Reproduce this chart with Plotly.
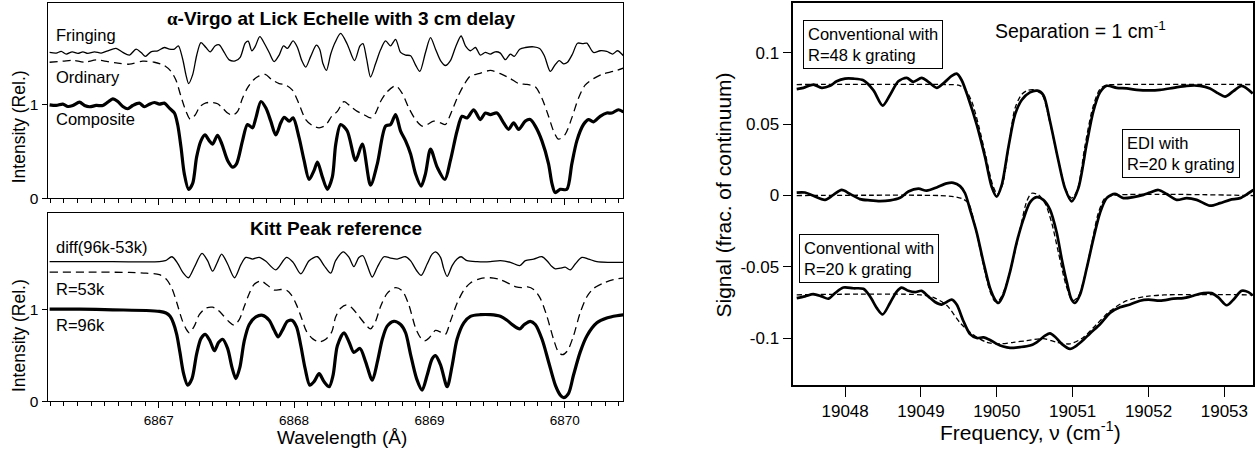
import plotly.graph_objects as go

# ---------------- Left top panel: alpha-Virgo at Lick Echelle ----------------
FRINGING = [(6866.194, 1.561), (6866.243, 1.554), (6866.280, 1.572), (6866.317, 1.544), (6866.361, 1.568),
            (6866.403, 1.551), (6866.440, 1.568), (6866.476, 1.551), (6866.526, 1.568), (6866.575, 1.554),
            (6866.624, 1.579), (6866.685, 1.604), (6866.735, 1.561), (6866.784, 1.533), (6866.833, 1.596),
            (6866.870, 1.561), (6866.902, 1.519), (6866.943, 1.568), (6866.993, 1.579), (6867.042, 1.614),
            (6867.079, 1.596), (6867.116, 1.596), (6867.145, 1.632), (6867.177, 1.491), (6867.202, 1.316),
            (6867.221, 1.228), (6867.251, 1.323), (6867.280, 1.526), (6867.312, 1.667), (6867.349, 1.614),
            (6867.381, 1.568), (6867.418, 1.632), (6867.447, 1.642), (6867.484, 1.561), (6867.521, 1.481),
            (6867.565, 1.470), (6867.602, 1.509), (6867.639, 1.660), (6867.661, 1.681), (6867.688, 1.579),
            (6867.713, 1.625), (6867.747, 1.730), (6867.784, 1.649), (6867.816, 1.561), (6867.853, 1.463),
            (6867.890, 1.533), (6867.922, 1.632), (6867.951, 1.604), (6867.993, 1.684), (6868.025, 1.614),
            (6868.057, 1.474), (6868.086, 1.404), (6868.123, 1.519), (6868.165, 1.639), (6868.189, 1.596),
            (6868.214, 1.439), (6868.239, 1.368), (6868.271, 1.544), (6868.303, 1.667), (6868.344, 1.765),
            (6868.393, 1.649), (6868.447, 1.474), (6868.487, 1.632), (6868.509, 1.656), (6868.536, 1.491),
            (6868.565, 1.298), (6868.602, 1.439), (6868.639, 1.589), (6868.676, 1.684), (6868.713, 1.632),
            (6868.750, 1.702), (6868.787, 1.561), (6868.824, 1.533), (6868.861, 1.526), (6868.897, 1.428),
            (6868.929, 1.358), (6868.971, 1.561), (6869.008, 1.719), (6869.045, 1.596), (6869.082, 1.474),
            (6869.118, 1.421), (6869.155, 1.474), (6869.192, 1.614), (6869.234, 1.737), (6869.266, 1.632),
            (6869.303, 1.579), (6869.340, 1.614), (6869.376, 1.533), (6869.413, 1.561), (6869.450, 1.544),
            (6869.487, 1.568), (6869.524, 1.554), (6869.561, 1.484), (6869.598, 1.544), (6869.627, 1.519),
            (6869.667, 1.596), (6869.709, 1.614), (6869.770, 1.621), (6869.814, 1.604), (6869.849, 1.526),
            (6869.893, 1.358), (6869.925, 1.421), (6869.959, 1.474), (6869.991, 1.439), (6870.020, 1.456),
            (6870.057, 1.544), (6870.094, 1.660), (6870.133, 1.656), (6870.163, 1.660), (6870.212, 1.561),
            (6870.261, 1.579), (6870.310, 1.572), (6870.354, 1.544), (6870.389, 1.579), (6870.433, 1.526)]

ORDINARY = [(6866.194, 1.456), (6866.292, 1.467), (6866.366, 1.477), (6866.452, 1.456), (6866.538, 1.481),
            (6866.624, 1.463), (6866.698, 1.446), (6866.784, 1.435), (6866.882, 1.467), (6866.968, 1.456),
            (6867.042, 1.421), (6867.091, 1.358), (6867.128, 1.263), (6867.165, 1.088), (6867.202, 0.930),
            (6867.233, 0.846), (6867.268, 0.888), (6867.305, 0.982), (6867.349, 1.021), (6867.398, 1.025),
            (6867.435, 1.011), (6867.472, 0.965), (6867.509, 0.912), (6867.546, 0.888), (6867.583, 0.930),
            (6867.619, 1.070), (6867.656, 1.182), (6867.698, 1.263), (6867.742, 1.309), (6867.787, 1.326),
            (6867.836, 1.270), (6867.890, 1.228), (6867.939, 1.211), (6867.988, 1.158), (6868.037, 1.007),
            (6868.086, 0.842), (6868.135, 0.779), (6868.185, 0.754), (6868.234, 0.782), (6868.278, 0.877),
            (6868.320, 0.930), (6868.369, 1.035), (6868.418, 0.982), (6868.467, 0.930), (6868.516, 0.895),
            (6868.565, 0.860), (6868.602, 0.912), (6868.639, 1.035), (6868.688, 1.140), (6868.750, 1.204),
            (6868.799, 1.123), (6868.848, 0.965), (6868.897, 0.842), (6868.946, 0.772), (6868.983, 0.789),
            (6869.032, 0.825), (6869.082, 0.807), (6869.118, 0.789), (6869.155, 0.895), (6869.204, 1.070),
            (6869.254, 1.211), (6869.303, 1.309), (6869.364, 1.333), (6869.450, 1.368), (6869.524, 1.333),
            (6869.598, 1.281), (6869.659, 1.228), (6869.721, 1.218), (6869.782, 1.193), (6869.831, 1.070),
            (6869.880, 0.877), (6869.917, 0.719), (6869.954, 0.632), (6870.003, 0.684), (6870.052, 0.860),
            (6870.101, 1.070), (6870.150, 1.211), (6870.212, 1.281), (6870.286, 1.333), (6870.359, 1.358),
            (6870.433, 1.393)]

COMPOSITE = [(6866.194, 1.000), (6866.243, 0.993), (6866.292, 1.007), (6866.329, 0.982), (6866.366, 0.993),
             (6866.415, 1.028), (6866.452, 0.993), (6866.489, 0.979), (6866.538, 0.993), (6866.587, 0.993),
             (6866.624, 1.028), (6866.661, 1.063), (6866.698, 1.035), (6866.735, 0.982), (6866.771, 0.958),
             (6866.808, 0.993), (6866.857, 1.018), (6866.894, 0.979), (6866.931, 1.007), (6866.968, 1.025),
             (6867.005, 1.007), (6867.042, 1.018), (6867.079, 0.965), (6867.116, 0.912), (6867.140, 0.789),
             (6867.165, 0.544), (6867.189, 0.263), (6867.221, 0.095), (6867.251, 0.158), (6867.280, 0.439),
             (6867.312, 0.614), (6867.342, 0.677), (6867.374, 0.614), (6867.398, 0.579), (6867.435, 0.674),
             (6867.467, 0.579), (6867.509, 0.404), (6867.546, 0.333), (6867.575, 0.368), (6867.619, 0.614),
             (6867.656, 0.789), (6867.693, 0.754), (6867.718, 0.860), (6867.755, 1.035), (6867.792, 0.965),
             (6867.828, 0.825), (6867.865, 0.677), (6867.902, 0.807), (6867.927, 0.867), (6867.964, 0.825),
             (6867.993, 0.860), (6868.037, 0.649), (6868.074, 0.404), (6868.111, 0.200), (6868.148, 0.298),
             (6868.173, 0.386), (6868.209, 0.228), (6868.246, 0.095), (6868.283, 0.228), (6868.308, 0.579),
             (6868.344, 0.789), (6868.393, 0.719), (6868.455, 0.404), (6868.504, 0.579), (6868.565, 0.140),
             (6868.615, 0.368), (6868.676, 0.772), (6868.713, 0.789), (6868.750, 0.895), (6868.787, 0.719),
             (6868.824, 0.614), (6868.861, 0.474), (6868.897, 0.263), (6868.939, 0.130), (6868.971, 0.263),
             (6869.008, 0.526), (6869.057, 0.333), (6869.114, 0.200), (6869.155, 0.404), (6869.204, 0.719),
             (6869.241, 0.877), (6869.278, 0.860), (6869.327, 0.947), (6869.376, 0.842), (6869.413, 0.912),
             (6869.450, 0.895), (6869.499, 0.912), (6869.548, 0.807), (6869.585, 0.737), (6869.622, 0.807),
             (6869.659, 0.737), (6869.708, 0.825), (6869.745, 0.842), (6869.782, 0.772), (6869.831, 0.614),
             (6869.880, 0.368), (6869.905, 0.158), (6869.929, 0.060), (6869.966, 0.095), (6870.015, 0.095),
             (6870.052, 0.368), (6870.089, 0.614), (6870.138, 0.789), (6870.175, 0.842), (6870.212, 0.818),
             (6870.261, 0.877), (6870.310, 0.912), (6870.347, 0.912), (6870.396, 0.947), (6870.433, 0.923)]

# ---------------- Left bottom panel: Kitt Peak reference ----------------
DIFF = [(6866.194, 1.521), (6866.661, 1.521), (6867.005, 1.521), (6867.049, 1.532), (6867.098, 1.575),
        (6867.140, 1.504), (6867.177, 1.407), (6867.219, 1.346), (6867.263, 1.461), (6867.320, 1.611),
        (6867.361, 1.532), (6867.398, 1.418), (6867.430, 1.504), (6867.465, 1.604), (6867.509, 1.496),
        (6867.560, 1.346), (6867.607, 1.489), (6867.644, 1.568), (6867.693, 1.550), (6867.742, 1.568),
        (6867.792, 1.525), (6867.865, 1.432), (6867.944, 1.568), (6867.993, 1.514), (6868.050, 1.389),
        (6868.111, 1.532), (6868.173, 1.575), (6868.222, 1.479), (6868.271, 1.396), (6868.307, 1.532),
        (6868.364, 1.629), (6868.406, 1.568), (6868.442, 1.468), (6868.479, 1.568), (6868.509, 1.586),
        (6868.541, 1.479), (6868.578, 1.354), (6868.615, 1.461), (6868.664, 1.575), (6868.713, 1.561),
        (6868.762, 1.550), (6868.823, 1.575), (6868.860, 1.532), (6868.905, 1.425), (6868.939, 1.371),
        (6868.983, 1.496), (6869.020, 1.604), (6869.045, 1.629), (6869.082, 1.568), (6869.106, 1.443),
        (6869.131, 1.361), (6869.168, 1.479), (6869.204, 1.550), (6869.234, 1.575), (6869.278, 1.532),
        (6869.352, 1.521), (6869.450, 1.521), (6869.524, 1.532), (6869.598, 1.514), (6869.667, 1.479),
        (6869.709, 1.532), (6869.770, 1.550), (6869.832, 1.575), (6869.868, 1.532), (6869.905, 1.468),
        (6869.930, 1.443), (6869.966, 1.450), (6870.003, 1.461), (6870.040, 1.432), (6870.077, 1.496),
        (6870.126, 1.568), (6870.175, 1.550), (6870.237, 1.521), (6870.335, 1.514), (6870.446, 1.514)]

R53K = [(6866.194, 1.407), (6866.538, 1.407), (6866.784, 1.404), (6866.907, 1.396), (6867.005, 1.379),
        (6867.059, 1.325), (6867.098, 1.229), (6867.135, 1.068), (6867.172, 0.889), (6867.202, 0.789),
        (6867.226, 0.746), (6867.263, 0.818), (6867.300, 0.943), (6867.349, 1.014), (6867.398, 1.025),
        (6867.435, 0.996), (6867.472, 0.943), (6867.516, 0.871), (6867.558, 0.829), (6867.595, 0.889),
        (6867.632, 1.032), (6867.669, 1.175), (6867.706, 1.275), (6867.755, 1.311), (6867.804, 1.264),
        (6867.853, 1.211), (6867.902, 1.218), (6867.944, 1.211), (6867.981, 1.157), (6868.018, 1.050),
        (6868.055, 0.907), (6868.091, 0.764), (6868.136, 0.682), (6868.185, 0.646), (6868.234, 0.675),
        (6868.278, 0.754), (6868.307, 0.918), (6868.344, 1.014), (6868.388, 1.050), (6868.430, 1.014),
        (6868.479, 0.925), (6868.528, 0.836), (6868.565, 0.789), (6868.602, 0.871), (6868.639, 1.032),
        (6868.688, 1.175), (6868.750, 1.239), (6868.799, 1.204), (6868.848, 1.050), (6868.897, 0.800),
        (6868.934, 0.693), (6868.963, 0.657), (6869.000, 0.693), (6869.045, 0.771), (6869.082, 0.754),
        (6869.118, 0.729), (6869.155, 0.871), (6869.204, 1.068), (6869.254, 1.211), (6869.303, 1.289),
        (6869.376, 1.336), (6869.450, 1.346), (6869.524, 1.325), (6869.598, 1.275), (6869.640, 1.246),
        (6869.684, 1.239), (6869.726, 1.246), (6869.770, 1.218), (6869.819, 1.121), (6869.868, 0.925),
        (6869.917, 0.675), (6869.954, 0.532), (6869.983, 0.507), (6870.020, 0.550), (6870.064, 0.711),
        (6870.113, 0.961), (6870.163, 1.139), (6870.212, 1.229), (6870.286, 1.289), (6870.359, 1.325),
        (6870.446, 1.346)]

R96K = [(6866.194, 1.004), (6866.415, 1.004), (6866.661, 0.996), (6866.907, 0.989), (6867.005, 0.979),
        (6867.054, 0.961), (6867.084, 0.925), (6867.108, 0.854), (6867.133, 0.729), (6867.157, 0.532),
        (6867.184, 0.300), (6867.214, 0.175), (6867.246, 0.246), (6867.280, 0.514), (6867.312, 0.682),
        (6867.344, 0.729), (6867.379, 0.657), (6867.411, 0.550), (6867.442, 0.639), (6867.472, 0.675),
        (6867.509, 0.575), (6867.541, 0.371), (6867.570, 0.246), (6867.600, 0.371), (6867.632, 0.657),
        (6867.669, 0.836), (6867.718, 0.918), (6867.767, 0.936), (6867.816, 0.882), (6867.853, 0.775),
        (6867.883, 0.700), (6867.914, 0.775), (6867.951, 0.871), (6867.983, 0.882), (6868.018, 0.811),
        (6868.050, 0.604), (6868.082, 0.354), (6868.116, 0.175), (6868.150, 0.218), (6868.185, 0.300),
        (6868.222, 0.211), (6868.259, 0.157), (6868.288, 0.282), (6868.320, 0.604), (6868.369, 0.746),
        (6868.406, 0.646), (6868.442, 0.532), (6868.487, 0.575), (6868.528, 0.432), (6868.578, 0.229),
        (6868.615, 0.425), (6868.652, 0.675), (6868.688, 0.818), (6868.737, 0.871), (6868.787, 0.836),
        (6868.824, 0.746), (6868.860, 0.514), (6868.905, 0.246), (6868.946, 0.121), (6868.983, 0.282),
        (6869.020, 0.461), (6869.045, 0.496), (6869.082, 0.396), (6869.131, 0.157), (6869.168, 0.389),
        (6869.204, 0.675), (6869.254, 0.854), (6869.303, 0.925), (6869.376, 0.943), (6869.450, 0.943),
        (6869.524, 0.925), (6869.573, 0.882), (6869.617, 0.829), (6869.667, 0.789), (6869.701, 0.836),
        (6869.745, 0.871), (6869.782, 0.836), (6869.832, 0.675), (6869.881, 0.425), (6869.930, 0.175),
        (6869.966, 0.068), (6869.991, 0.039), (6870.028, 0.086), (6870.064, 0.282), (6870.113, 0.532),
        (6870.163, 0.711), (6870.237, 0.854), (6870.310, 0.907), (6870.384, 0.932), (6870.446, 0.943)]

# ---------------- Right panel: Separation = 1 cm-1 ----------------
CONV48_DATA = [(19047.362, 0.0745), (19047.450, 0.0754), (19047.581, 0.0777), (19047.691, 0.0754),
               (19047.801, 0.0768), (19047.889, 0.0800), (19047.999, 0.0818), (19048.108, 0.0818),
               (19048.240, 0.0807), (19048.372, 0.0738), (19048.495, 0.0630), (19048.592, 0.0704),
               (19048.702, 0.0800), (19048.812, 0.0823), (19048.899, 0.0796), (19049.009, 0.0823),
               (19049.097, 0.0796), (19049.207, 0.0754), (19049.317, 0.0796), (19049.405, 0.0837),
               (19049.471, 0.0853), (19049.537, 0.0807), (19049.625, 0.0681), (19049.735, 0.0497),
               (19049.845, 0.0268), (19049.932, 0.0062), (19049.998, -0.0007), (19050.064, 0.0073),
               (19050.152, 0.0337), (19050.240, 0.0566), (19050.328, 0.0669), (19050.437, 0.0722),
               (19050.534, 0.0734), (19050.613, 0.0704), (19050.701, 0.0520), (19050.811, 0.0245),
               (19050.899, 0.0050), (19050.986, -0.0041), (19051.074, 0.0050), (19051.184, 0.0360),
               (19051.272, 0.0589), (19051.360, 0.0722), (19051.448, 0.0768), (19051.580, 0.0754),
               (19051.712, 0.0750), (19051.844, 0.0740), (19052.019, 0.0736), (19052.151, 0.0740),
               (19052.327, 0.0754), (19052.503, 0.0768), (19052.678, 0.0768), (19052.810, 0.0750),
               (19052.920, 0.0715), (19053.008, 0.0692), (19053.118, 0.0731), (19053.228, 0.0768),
               (19053.373, 0.0715)]

CONV48_FIT = [(19047.362, 0.0777), (19049.339, 0.0777), (19049.493, 0.0773), (19049.581, 0.0745),
              (19049.669, 0.0658), (19049.757, 0.0497), (19049.858, 0.0268), (19049.946, 0.0073),
              (19050.007, 0.0011), (19050.073, 0.0073), (19050.161, 0.0360), (19050.240, 0.0612),
              (19050.328, 0.0708), (19050.415, 0.0738), (19050.516, 0.0738), (19050.604, 0.0699),
              (19050.701, 0.0509), (19050.811, 0.0245), (19050.912, 0.0039), (19050.986, -0.0018),
              (19051.061, 0.0039), (19051.162, 0.0348), (19051.263, 0.0612), (19051.360, 0.0745),
              (19051.448, 0.0773), (19051.580, 0.0777), (19053.381, 0.0777)]

EDI_DATA = [(19047.362, 0.0021), (19047.471, 0.0021), (19047.581, -0.0002), (19047.735, -0.0030),
            (19047.845, 0.0005), (19047.955, 0.0039), (19048.065, 0.0011), (19048.196, -0.0025),
            (19048.329, -0.0034), (19048.461, -0.0039), (19048.593, -0.0034), (19048.724, -0.0016),
            (19048.834, 0.0028), (19048.966, 0.0048), (19049.076, 0.0034), (19049.207, 0.0057),
            (19049.339, 0.0085), (19049.427, 0.0089), (19049.515, 0.0066), (19049.581, 0.0016),
            (19049.647, -0.0099), (19049.735, -0.0259), (19049.823, -0.0465), (19049.911, -0.0649),
            (19049.977, -0.0729), (19050.020, -0.0752), (19050.086, -0.0695), (19050.174, -0.0534),
            (19050.262, -0.0328), (19050.350, -0.0167), (19050.437, -0.0048), (19050.525, -0.0011),
            (19050.613, -0.0030), (19050.701, -0.0099), (19050.789, -0.0259), (19050.855, -0.0442),
            (19050.921, -0.0603), (19050.986, -0.0729), (19051.030, -0.0752), (19051.096, -0.0695),
            (19051.184, -0.0511), (19051.272, -0.0305), (19051.360, -0.0122), (19051.448, -0.0018),
            (19051.558, 0.0011), (19051.668, -0.0018), (19051.800, -0.0011), (19051.932, 0.0005),
            (19052.019, 0.0021), (19052.129, 0.0039), (19052.239, 0.0011), (19052.371, -0.0030),
            (19052.503, -0.0018), (19052.635, -0.0030), (19052.810, -0.0071), (19052.942, -0.0053),
            (19053.074, -0.0030), (19053.206, -0.0018), (19053.316, 0.0016), (19053.382, 0.0039)]

EDI_FIT = [(19047.362, 0.0), (19049.251, 0.0), (19049.427, -0.0007), (19049.537, -0.0021),
           (19049.625, -0.0053), (19049.713, -0.0213), (19049.814, -0.0465), (19049.911, -0.0672),
           (19049.977, -0.0741), (19050.034, -0.0729), (19050.108, -0.0649), (19050.196, -0.0488),
           (19050.306, -0.0236), (19050.394, -0.0041), (19050.459, 0.0016), (19050.547, 0.0005),
           (19050.635, -0.0053), (19050.723, -0.0190), (19050.811, -0.0397), (19050.912, -0.0626),
           (19051.000, -0.0736), (19051.074, -0.0706), (19051.162, -0.0557), (19051.250, -0.0339),
           (19051.338, -0.0122), (19051.426, -0.0018), (19051.514, 0.0), (19053.382, 0.0)]

CONV20_DATA = [(19047.362, -0.0718), (19047.471, -0.0706), (19047.581, -0.0690), (19047.691, -0.0706),
               (19047.779, -0.0722), (19047.867, -0.0683), (19047.977, -0.0644), (19048.108, -0.0649),
               (19048.240, -0.0653), (19048.328, -0.0706), (19048.416, -0.0786), (19048.495, -0.0832),
               (19048.592, -0.0752), (19048.680, -0.0672), (19048.746, -0.0644), (19048.834, -0.0667),
               (19048.922, -0.0676), (19049.009, -0.0667), (19049.097, -0.0706), (19049.185, -0.0745),
               (19049.273, -0.0763), (19049.339, -0.0745), (19049.405, -0.0729), (19049.471, -0.0763),
               (19049.559, -0.0878), (19049.647, -0.0970), (19049.735, -0.0997), (19049.823, -0.0993),
               (19049.911, -0.1011), (19049.998, -0.1038), (19050.086, -0.1057), (19050.174, -0.1066),
               (19050.306, -0.1061), (19050.438, -0.1050), (19050.525, -0.1027), (19050.635, -0.0981),
               (19050.701, -0.0965), (19050.767, -0.0988), (19050.855, -0.1038), (19050.965, -0.1073),
               (19051.052, -0.1050), (19051.140, -0.1011), (19051.228, -0.0965), (19051.360, -0.0901),
               (19051.492, -0.0821), (19051.624, -0.0782), (19051.756, -0.0763), (19051.888, -0.0736),
               (19051.998, -0.0729), (19052.151, -0.0736), (19052.327, -0.0722), (19052.459, -0.0718),
               (19052.591, -0.0701), (19052.723, -0.0683), (19052.832, -0.0683), (19052.920, -0.0713),
               (19053.030, -0.0768), (19053.118, -0.0729), (19053.228, -0.0667), (19053.316, -0.0676),
               (19053.373, -0.0699)]

CONV20_FIT = [(19047.362, -0.0695), (19048.988, -0.0695), (19049.163, -0.0713), (19049.339, -0.0768),
              (19049.515, -0.0890), (19049.691, -0.0975), (19049.867, -0.1027), (19050.042, -0.1038),
              (19050.218, -0.1027), (19050.394, -0.1016), (19050.613, -0.1002), (19050.789, -0.1027),
              (19050.965, -0.1038), (19051.140, -0.0993), (19051.316, -0.0901), (19051.492, -0.0809),
              (19051.712, -0.0736), (19051.975, -0.0706), (19052.239, -0.0695), (19053.381, -0.0695)]

WL_TICKS = [6867, 6868, 6869, 6870]
WL_LABELS = ["6867", "6868", "6869", "6870"]
INT_TICKS = [0, 1]
INT_LABELS = ["0", "1"]
NU_TICKS = [19048, 19049, 19050, 19051, 19052, 19053]
NU_LABELS = ["19048", "19049", "19050", "19051", "19052", "19053"]
SIG_TICKS = [-0.1, -0.05, 0, 0.05, 0.1]
SIG_LABELS = ["-0.1", "-0.05", "0", "0.05", "0.1"]

FONT = "Liberation Sans, Arial, Helvetica, sans-serif"
W, H = 1260, 457


def xy(pairs):
    return [p[0] for p in pairs], [p[1] for p in pairs]


fig = go.Figure()


def add(pairs, xa, ya, width, dash="solid"):
    x, y = xy(pairs)
    fig.add_trace(go.Scatter(x=x, y=y, mode="lines", xaxis=xa, yaxis=ya,
                             line=dict(color="black", width=width, dash=dash,
                                       shape="spline", smoothing=0.8),
                             showlegend=False, hoverinfo="skip"))


LDASH = "8px,5px"
RDASH = "5px,3px"
add(FRINGING, "x", "y", 1.3)
add(ORDINARY, "x", "y", 1.3, LDASH)
add(COMPOSITE, "x", "y", 3.2)
add(DIFF, "x2", "y2", 1.3)
add(R53K, "x2", "y2", 1.3, LDASH)
add(R96K, "x2", "y2", 3.2)
add(CONV48_FIT, "x3", "y3", 1.3, RDASH)
add(EDI_FIT, "x3", "y3", 1.3, RDASH)
add(CONV20_FIT, "x3", "y3", 1.3, RDASH)
add(CONV48_DATA, "x3", "y3", 2.7)
add(EDI_DATA, "x3", "y3", 2.7)
add(CONV20_DATA, "x3", "y3", 2.7)


def px(v):
    return v / W


def py(v):
    return 1 - v / H


LX = [px(47.7), px(623)]
frame = dict(showline=True, mirror=True, linecolor="black", linewidth=1.3,
             showgrid=False, zeroline=False, ticks="outside", tickcolor="black",
             tickwidth=1.1)

wl_axis = dict(frame, range=[6866.18, 6870.43], tickvals=WL_TICKS, ticktext=WL_LABELS, ticklen=6,
               minor=dict(dtick=0.1, tick0=6866, ticks="outside", ticklen=4,
                          tickcolor="black", tickwidth=1.1),
               tickfont=dict(family=FONT, size=13.5, color="black"))

layout = dict(
    width=W, height=H, margin=dict(l=0, r=0, t=0, b=0),
    paper_bgcolor="white", plot_bgcolor="white",
    font=dict(family=FONT, color="black"),
    xaxis=dict(wl_axis, domain=LX, anchor="y", showticklabels=False),
    yaxis=dict(frame, domain=[py(201.7), py(3.3)], range=[0, 2.088], anchor="x",
               tickvals=INT_TICKS, ticktext=INT_LABELS, ticklen=5,
               tickfont=dict(family=FONT, size=15.5, color="black")),
    xaxis2=dict(wl_axis, domain=LX, anchor="y2", showticklabels=True),
    yaxis2=dict(frame, domain=[py(408.3), py(217)], range=[0, 2.05], anchor="x2",
                tickvals=INT_TICKS, ticktext=INT_LABELS, ticklen=5,
                tickfont=dict(family=FONT, size=15.5, color="black")),
    xaxis3=dict(frame, domain=[px(793.3), px(1253.3)], range=[19047.317, 19053.381],
                anchor="y3", tickvals=NU_TICKS, ticktext=NU_LABELS, ticklen=10, linewidth=1.5,
                tickfont=dict(family=FONT, size=17, color="black")),
    yaxis3=dict(frame, domain=[py(391.7), py(3.3)], range=[-0.1325, 0.1346],
                anchor="x3", tickvals=SIG_TICKS, ticktext=SIG_LABELS, ticklen=9,
                linewidth=1.5, tickfont=dict(family=FONT, size=17, color="black")),
)
fig.update_layout(**layout)


def note(text, x, y, size, xanchor="left", yanchor="middle", angle=0, **kw):
    fig.add_annotation(text=text, x=x, y=y, xref="paper", yref="paper",
                       xanchor=xanchor, yanchor=yanchor, showarrow=False,
                       textangle=angle, font=dict(family=FONT, size=size, color="black"), **kw)


# left panel texts
note("<b><span style='font-family:Liberation Serif'>α</span>-Virgo at Lick Echelle with 3 cm delay</b>",
     px(341.7), py(19), 19, xanchor="center")
note("Fringing", px(54), py(35.5), 16.5)
note("Ordinary", px(54), py(78), 16.5)
note("Composite", px(54), py(121.5), 16.5)
note("<b>Kitt Peak reference</b>", px(335.8), py(232.5), 19, xanchor="center")
note("diff(96k-53k)", px(54), py(251.5), 16.5)
note("R=53k", px(54), py(294), 16.5)
note("R=96k", px(54), py(331), 16.5)
note("Intensity (Rel.)", px(18.5), py(129), 17.5, xanchor="center", angle=-90)
note("Intensity (Rel.)", px(18.5), py(341.5), 17.5, xanchor="center", angle=-90)
note("Wavelength (Å)", px(341.7), py(445), 19, xanchor="center")

# right panel texts
box = dict(bordercolor="black", borderwidth=1, borderpad=4, bgcolor="white", align="left")
note("Conventional with<br>R=48 k grating", px(803.3), py(20.7), 16.5, yanchor="top", **box)
note("EDI with<br>R=20 k grating", px(1121.7), py(131), 16.5, yanchor="top", **box)
note("Conventional with<br>R=20 k grating", px(799.3), py(238.3), 16.5, yanchor="top", **box)
note("Separation = 1 cm<sup>-1</sup>", px(1080), py(31), 19.5, xanchor="center")
note("Signal (frac. of continuum)", px(724), py(199), 21, xanchor="center", angle=-90)
note("Frequency, ν (cm<sup>-1</sup>)", px(1030), py(439), 21, xanchor="center")

fig.write_html("out.html", config={"displayModeBar": False})

# remove the browser's default page margin so the figure sits at the window's corner
with open("out.html", "r", encoding="utf-8") as f:
    html = f.read()
html = html.replace("<head>", "<head><style>html,body{margin:0;padding:0;overflow:hidden;}</style>", 1)
with open("out.html", "w", encoding="utf-8") as f:
    f.write(html)
